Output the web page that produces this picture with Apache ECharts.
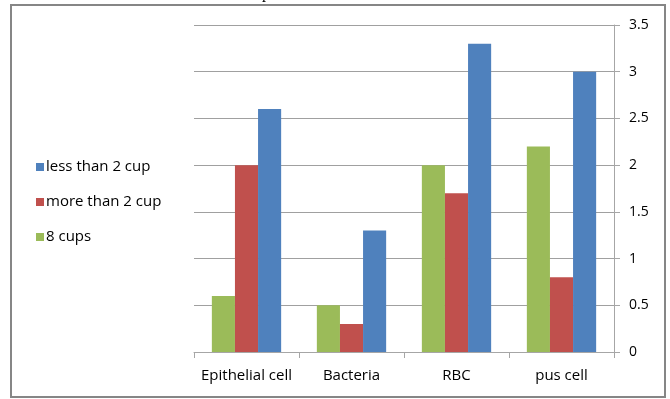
<!DOCTYPE html>
<html>
<head>
<meta charset="utf-8">
<script src="https://cdn.jsdelivr.net/npm/echarts@6/dist/echarts.min.js"></script>
<style>
  html, body { margin: 0; padding: 0; background: #fff; }
  #chart { width: 670px; height: 399px; }
</style>
</head>
<body>
<div id="chart"></div>
<script>
// Urine findings by daily cup intake
const categories = ['Epithelial cell', 'Bacteria', 'RBC', 'pus cell'];
const cups8 = [0.6, 0.5, 2.0, 2.2];
const moreThan2 = [2.0, 0.3, 1.7, 0.8];
const lessThan2 = [2.6, 1.3, 3.3, 3.0];
const yTicks = { min: 0, max: 3.5, step: 0.5 };

const FONT = '"Open Sans", "Liberation Sans", sans-serif';
const chart = echarts.init(document.getElementById('chart'), null, { renderer: 'canvas' });

chart.setOption({
  animation: false,
  backgroundColor: '#ffffff',
  textStyle: { fontFamily: FONT, color: '#000' },
  graphic: [
    {
      type: 'rect',
      shape: { x: 11, y: 5, width: 654, height: 392 },
      style: { fill: 'none', stroke: '#868686', lineWidth: 2 }
    },
    {
      type: 'text',
      x: 262, y: -14,
      style: { text: 'p', font: '16px "Liberation Serif", serif', fill: '#000' }
    }
  ],
  legend: {
    orient: 'vertical',
    left: 31,
    top: 152,
    itemWidth: 8,
    itemHeight: 8,
    itemGap: 15,
    icon: 'rect',
    data: ['less than 2 cup', 'more than 2 cup', '8 cups'],
    textStyle: { fontFamily: FONT, fontSize: 15, color: '#000', lineHeight: 20, padding: [0, 0, 0, -3] }
  },
  grid: { left: 194, right: 56, top: 25, bottom: 47 },
  xAxis: {
    type: 'category',
    data: categories,
    axisLine: { lineStyle: { color: '#a6a6a6' } },
    axisTick: { show: true, alignWithLabel: false, length: 6, lineStyle: { color: '#a6a6a6' } },
    axisLabel: { fontFamily: FONT, fontSize: 15, color: '#000', margin: 16, interval: 0 }
  },
  yAxis: {
    type: 'value',
    position: 'right',
    min: yTicks.min,
    max: yTicks.max,
    interval: yTicks.step,
    axisLine: { show: true, lineStyle: { color: '#a6a6a6' } },
    axisTick: { show: true, length: 6, lineStyle: { color: '#a6a6a6' } },
    splitLine: { lineStyle: { color: '#a0a0a0' } },
    axisLabel: { fontFamily: FONT, fontSize: 14, color: '#000', margin: 15 }
  },
  series: [
    { name: '8 cups', type: 'bar', data: cups8, itemStyle: { color: '#9BBB59' },
      barGap: '0%', barCategoryGap: '34%' },
    { name: 'more than 2 cup', type: 'bar', data: moreThan2, itemStyle: { color: '#C0504D' } },
    { name: 'less than 2 cup', type: 'bar', data: lessThan2, itemStyle: { color: '#4F81BD' } }
  ]
});
</script>
</body>
</html>
